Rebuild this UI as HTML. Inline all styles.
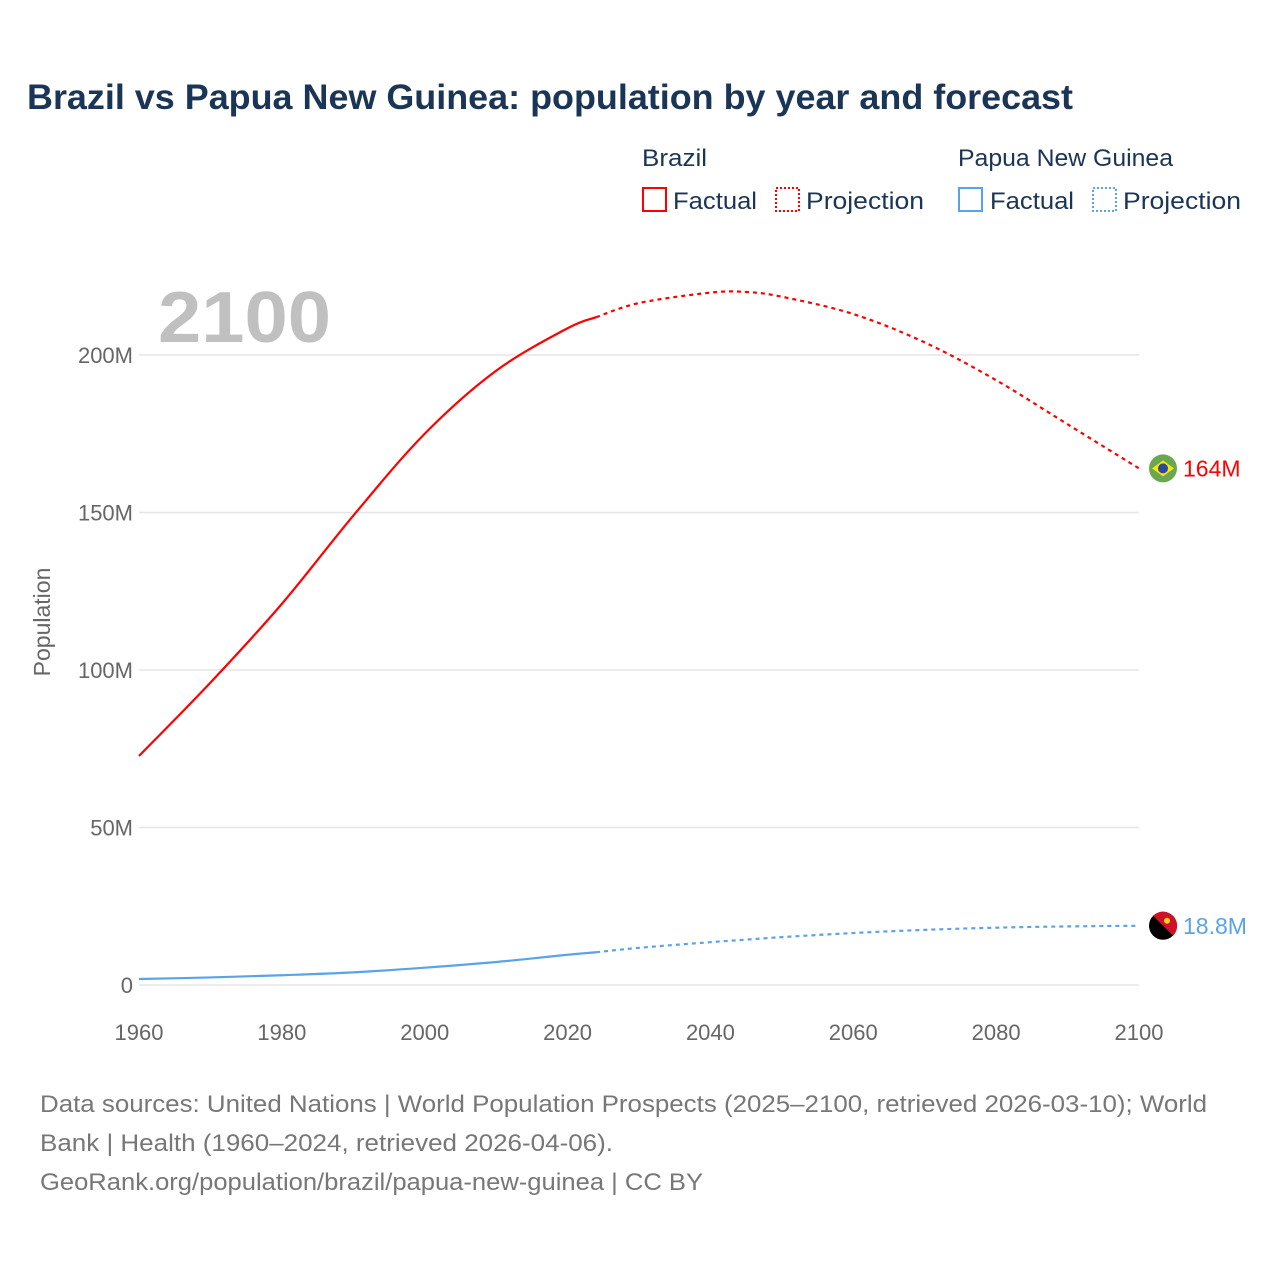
<!DOCTYPE html>
<html><head><meta charset="utf-8">
<style>
body{margin:0;background:#fff;font-family:"Liberation Sans",sans-serif;}
#wrap{position:relative;width:1280px;height:1280px;overflow:hidden;}
svg text{font-family:"Liberation Sans",sans-serif;}
</style></head><body>
<div id="wrap">
<svg id="chart" width="1280" height="1280">
<text x="27" y="109" font-size="35" font-weight="bold" fill="#1b3556" textLength="1046" lengthAdjust="spacingAndGlyphs">Brazil vs Papua New Guinea: population by year and forecast</text>
<g>
<text x="642" y="166" font-size="24" fill="#1b3556" textLength="65" lengthAdjust="spacingAndGlyphs">Brazil</text>
<rect x="643" y="188" width="23" height="23" fill="none" stroke="#ff0000" stroke-width="2"/>
<text x="673" y="209" font-size="24" fill="#1b3556" textLength="84" lengthAdjust="spacingAndGlyphs">Factual</text>
<rect x="776" y="188" width="23" height="23" fill="none" stroke="#ff0000" stroke-width="2" stroke-dasharray="2,2"/>
<text x="806" y="209" font-size="24" fill="#1b3556" textLength="118" lengthAdjust="spacingAndGlyphs">Projection</text>
<text x="958" y="166" font-size="24" fill="#1b3556" textLength="215" lengthAdjust="spacingAndGlyphs">Papua New Guinea</text>
<rect x="959" y="188" width="23" height="23" fill="none" stroke="#5aa3e8" stroke-width="2"/>
<text x="990" y="209" font-size="24" fill="#1b3556" textLength="84" lengthAdjust="spacingAndGlyphs">Factual</text>
<rect x="1093" y="188" width="23" height="23" fill="none" stroke="#5aa3e8" stroke-width="2" stroke-dasharray="2,2"/>
<text x="1123" y="209" font-size="24" fill="#1b3556" textLength="118" lengthAdjust="spacingAndGlyphs">Projection</text>
</g>
<text x="158" y="342" font-size="72" font-weight="bold" fill="#c0c0c0" textLength="173" lengthAdjust="spacingAndGlyphs">2100</text>
<text transform="translate(50,622) rotate(-90)" text-anchor="middle" font-size="23" fill="#666">Population</text>
<g id="grid"></g><g id="series"></g>
<text x="40" y="1112" font-size="24" fill="#777" textLength="1167" lengthAdjust="spacingAndGlyphs">Data sources: United Nations | World Population Prospects (2025–2100, retrieved 2026-03-10); World</text>
<text x="40" y="1151" font-size="24" fill="#777" textLength="573" lengthAdjust="spacingAndGlyphs">Bank | Health (1960–2024, retrieved 2026-04-06).</text>
<text x="40" y="1190" font-size="24" fill="#777" textLength="663" lengthAdjust="spacingAndGlyphs">GeoRank.org/population/brazil/papua-new-guinea | CC BY</text>
</svg></div>
<script>
const yTicks=[0,50,100,150,200];
const yTickLabels=["0","50M","100M","150M","200M"];
const xTicks=[1960,1980,2000,2020,2040,2060,2080,2100];
const factYears=[1960,1970,1980,1990,2000,2010,2020,2024];
const projYears=[2024,2030,2040,2045,2050,2060,2070,2080,2090,2100];
const brazilFact=[72.7,96,121,149,175,195,208.5,212];
const brazilProj=[212,216.5,219.8,220,218.5,213,204,192,178,164];
const pngFact=[1.9,2.4,3.1,4.0,5.5,7.3,9.6,10.4];
const pngProj=[10.4,11.8,13.6,14.4,15.2,16.5,17.5,18.2,18.6,18.8];
const NS="http://www.w3.org/2000/svg";
const X=y=>139+(y-1960)*1000/140;
const Y=v=>985-v*3.15;
function mk(t,a,p){const e=document.createElementNS(NS,t);for(const k in a)e.setAttribute(k,a[k]);p.appendChild(e);return e;}
const grid=document.getElementById('grid'),ser=document.getElementById('series');
yTicks.forEach((v,i)=>{
 const l=mk('line',{x1:139,x2:1139,y1:Y(v),y2:Y(v),stroke:'#e6e6e6','stroke-width':1.5},grid);
 
 
 const t=mk('text',{x:133,y:Y(v)+8,'text-anchor':'end','font-size':22,fill:'#666'},grid);t.textContent=yTickLabels[i];
 
 
});
xTicks.forEach(v=>{
 const t=mk('text',{x:X(v),y:1040,'text-anchor':'middle','font-size':22,fill:'#666'},grid);t.textContent=v;
 
 
});
function path(xs,vs){
 const p=xs.map((x,i)=>[X(x),Y(vs[i])]);let d='M'+p[0][0]+','+p[0][1];
 for(let i=0;i<p.length-1;i++){const p0=p[i-1]||p[i],p1=p[i],p2=p[i+1],p3=p[i+2]||p2;
  d+=' C'+(p1[0]+(p2[0]-p0[0])/6)+','+(p1[1]+(p2[1]-p0[1])/6)+' '+(p2[0]-(p3[0]-p1[0])/6)+','+(p2[1]-(p3[1]-p1[1])/6)+' '+p2[0]+','+p2[1];}
 return d;}
function line(xs,vs,col,dash,name){
 const e=mk('path',{d:path(xs,vs),fill:'none',stroke:col,'stroke-width':2.2},ser);
 if(dash)e.setAttribute('stroke-dasharray','4,4');
 
 
}
line(factYears,brazilFact,'#ff0000',false,'brazil-factual-line');
line(projYears,brazilProj,'#ff0000',true,'brazil-projection-line');
line(factYears,pngFact,'#5aa3e8',false,'png-factual-line');
line(projYears,pngProj,'#5aa3e8',true,'png-projection-line');
const bLast=brazilProj[brazilProj.length-1],pLast=pngProj[pngProj.length-1];
const by=Y(bLast),py=Y(pLast),fx=1163;
let g=mk('g',{},ser);
mk('circle',{cx:fx,cy:by,r:14,fill:'#6aa84f'},g);
mk('polygon',{points:`${fx-11},${by} ${fx},${by-8} ${fx+11},${by} ${fx},${by+8}`,fill:'#f8e509'},g);
mk('circle',{cx:fx,cy:by,r:5,fill:'#2b49a3'},g);
let t=mk('text',{x:1183,y:by+8,'font-size':23,fill:'#ff0000'},ser);t.textContent=bLast+'M';


g=mk('g',{},ser);
mk('circle',{cx:fx,cy:py,r:14,fill:'#000'},g);
mk('path',{d:`M${fx-10},${py-10} A14,14 0 0 1 ${fx+10},${py+10} Z`,fill:'#ce1126'},g);
mk('circle',{cx:fx+4,cy:py-5,r:3,fill:'#fcd116'},g);
t=mk('text',{x:1183,y:py+8,'font-size':23,fill:'#5aa3e8'},ser);t.textContent=pLast+'M';


</script>
</body></html>
